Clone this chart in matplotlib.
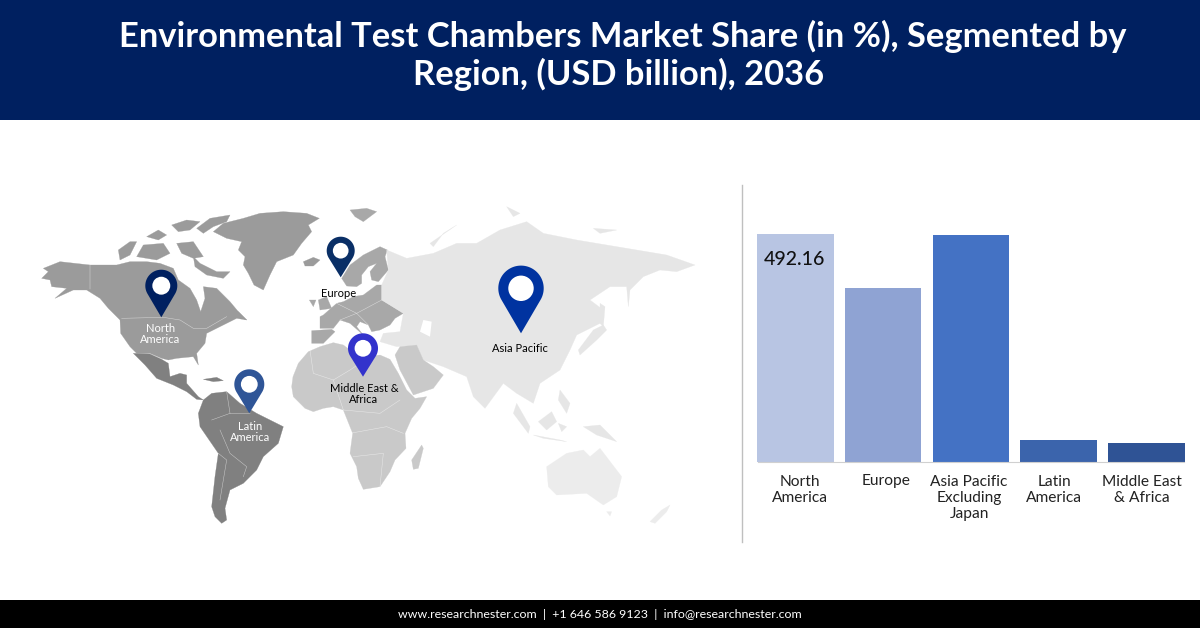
import matplotlib
matplotlib.use("Agg")
import matplotlib.pyplot as plt
from matplotlib.patches import Polygon, Rectangle, Circle
import numpy as np

# ---------- data ----------
categories = ["North\nAmerica", "Europe", "Asia Pacific\nExcluding\nJapan", "Latin\nAmerica", "Middle East\n& Africa"]
values = [492.16, 375.0, 490.0, 47.5, 41.0]
bar_colors = ["#B8C5E3", "#8FA3D3", "#4472C4", "#3B64AC", "#2F5395"]
label_shift = [0.055, 0.03, -0.02, -0.05, -0.05]
value_label = "492.16"
title_lines = ["Environmental Test Chambers Market Share (in %), Segmented by", "Region, (USD billion), 2036"]
footer = "www.researchnester.com  |  +1 646 586 9123  |  info@researchnester.com"

plt.rcParams["font.family"] = ["Lato", "DejaVu Sans"]
fig = plt.figure(figsize=(12, 6.28), dpi=100, facecolor="white")
bg = fig.add_axes([0, 0, 1, 1])
bg.set_xlim(0, 1200); bg.set_ylim(628, 0); bg.axis("off")

bg.add_patch(Rectangle((0, 0), 1200, 120, color="#002060", lw=0))
bg.add_patch(Rectangle((0, 600), 1200, 28, color="#000000", lw=0))
bg.text(622.5, 36, title_lines[0], color="white", ha="center", va="center", fontsize=24.85, fontweight="bold")
bg.text(618.5, 74, title_lines[1], color="white", ha="center", va="center", fontsize=24.85, fontweight="bold")
bg.text(599.5, 614.5, footer, color="white", ha="center", va="center", fontsize=8.95)
bg.plot([741.5, 741.5], [185, 542], color="#BFBFBF", lw=1)

Z2 = (30, 200); Z3 = (300, 200)
def land(pts, color, off):
    p = [(off[0] + x / 3, off[1] + y / 3) for x, y in pts]
    bg.add_patch(Polygon(p, closed=True, fc=color, ec=color, lw=0.2, joinstyle="round"))
def border(pts, off, color="white", lw=0.35):
    bg.plot([off[0] + x / 3 for x, y in pts], [off[1] + y / 3 for x, y in pts], color=color, lw=lw, alpha=0.6)

NA = "#9B9B9B"; LA = "#808080"; EU = "#A8A8A8"; AF = "#C9C9C9"; AS = "#E6E6E6"; OC = "#ECECEC"
# North America
land([(40,205),(90,185),(180,195),(260,195),(300,185),(350,185),(390,190),(430,205),(445,240),(480,265),(500,300),
      (512,335),(525,295),(520,260),(560,265),(600,305),(625,335),(650,360),(620,355),(590,370),(560,385),(530,400),
      (525,430),(500,460),(505,495),(490,470),(440,475),(415,480),(395,475),(360,460),(320,460),(300,440),(272,400),
      (270,360),(235,325),(210,295),(170,270),(130,270),(75,295),(110,265),(65,260),(60,240),(35,235),(55,215)], NA, Z2)
for isl in [[(500,85),(540,55),(600,45),(590,65),(550,80),(520,100)],
            [(425,75),(470,60),(510,65),(480,90),(445,95)],
            [(440,130),(490,125),(520,170),(490,175),(455,160)],
            [(490,170),(510,190),(560,215),(600,215),(580,235),(530,225),(495,200)],
            [(265,150),(300,125),(320,125),(300,165),(270,180)],
            [(320,170),(340,135),(400,130),(420,160),(380,180)],
            [(350,110),(385,90),(410,105),(385,120)],
            [(590,325),(625,335),(650,360),(610,345)]]:
    land(isl, NA, Z2)
land([(550,95),(580,70),(640,55),(690,40),(760,35),(830,40),(868,55),(835,75),(845,95),(815,130),(790,165),(740,185),
      (720,225),(700,270),(672,255),(655,220),(640,195),(645,170),(625,150),(635,125),(590,115)], NA, Z2)
land([(820,185),(850,172),(870,180),(850,198),(825,198)], NA, Z2)
land([(960,30),(1010,25),(1040,35),(1000,65),(975,50)], EU, Z2)
border([(180,195),(180,268)], Z2); border([(275,355),(400,352),(450,360),(490,385),(530,385),(590,350)], Z2)
# Mexico / Central America
land([(310,460),(360,462),(395,478),(415,490),(420,530),(450,520),(470,525),(470,550),(505,590),(520,600),(500,598),
      (470,575),(430,555),(380,535),(345,495),(320,470)], LA, Z2)
land([(520,538),(560,532),(580,542),(550,545)], LA, Z2)
# South America
land([(520,600),(545,580),(590,575),(630,610),(680,640),(760,680),(745,730),(700,770),(680,810),(640,850),(600,870),
      (585,925),(590,960),(575,970),(555,950),(545,920),(555,830),(565,760),(510,680),(505,640)], LA, Z2)
border([(545,660),(600,640),(660,640)], Z2); border([(570,690),(600,760),(650,800),(640,830)], Z2)
border([(565,760),(590,780),(570,900)], Z2); border([(590,575),(600,640)], Z2)
# Europe
land([(125,235),(150,195),(190,165),(240,140),(262,150),(255,170),(265,210),(235,245),(215,240),(210,215),(230,190),
      (205,200),(185,225),(185,250),(170,260),(140,258)], EU, Z3)
land([(60,350),(70,345),(110,310),(130,305),(160,290),(190,285),(230,255),(245,255),(245,300),(310,340),(285,355),
      (270,375),(240,390),(215,395),(205,375),(180,365),(170,380),(190,405),(150,370),(120,360),(100,385),(60,385)], EU, Z3)
land([(35,392),(95,388),(105,395),(70,430),(35,430)], EU, Z3)
land([(55,300),(80,290),(95,325),(60,330)], EU, Z3)
land([(28,300),(48,300),(40,320)], EU, Z3)
border([(110,310),(170,340),(245,300)], Z3); border([(120,360),(170,340),(205,375)], Z3)
# Asia
land([(260,150),(320,175),(400,160),(470,130),(530,130),(600,90),(680,65),(730,100),(830,120),(950,140),(1100,165),
      (1185,195),(1130,215),(1080,210),(1030,230),(990,270),(985,320),(980,260),(930,260),(870,300),(910,330),(900,370),
      (830,405),(810,450),(780,510),(720,550),(700,610),(650,580),(610,550),(555,625),(520,590),(500,530),(430,500),
      (370,480),(350,435),(290,440),(240,425),(250,400),(300,395),(310,340),(245,300),(245,255),(265,210)], AS, Z3)
for isl in [[(390,130),(470,75),(430,100),(400,140)], [(880,390),(910,375),(920,390),(890,420),(840,465),(835,450)],
            [(900,310),(915,320),(910,380),(900,370)], [(620,20),(660,40),(640,50)], [(880,85),(950,90),(900,100)],
            [(650,610),(690,680),(685,700),(640,640)], [(700,705),(780,720),(800,725),(730,715)],
            [(715,665),(755,635),(770,665),(740,690)], [(780,570),(810,610),(800,640),(775,600)],
            [(850,680),(900,675),(950,725),(890,705)], [(775,670),(800,680),(785,695)]]:
    land(isl, AS, Z3)
bg.add_patch(Polygon([(300+370/3, 200+360/3), (300+395/3, 200+365/3), (300+390/3, 200+410/3), (300+360/3, 200+395/3)], fc="white", ec="none"))
# Africa and Middle East
land([(-21,530),(-5,490),(25,455),(60,440),(100,428),(130,435),(150,450),(195,470),(240,465),(270,478),(295,520),(320,570),
      (345,595),(380,590),(360,625),(335,655),(315,700),(318,745),(285,780),(270,815),(240,860),(190,868),(175,835),(170,800),
      (150,760),(158,700),(138,650),(130,630),(100,620),(70,625),(40,635),(15,625),(-20,590),(-25,560)], AF, Z3)
land([(285,465),(300,440),(350,435),(370,480),(400,500),(430,525),(400,565),(340,585),(300,510)], AF, Z3)
land([(335,780),(365,735),(370,745),(355,805),(340,808)], AF, Z3)
border([(30,450),(40,520),(100,540),(150,510),(210,470)], Z3); border([(100,540),(130,630),(240,640),(300,600)], Z3)
border([(150,700),(260,680),(310,700)], Z3); border([(160,770),(250,760),(240,860)], Z3)
# Oceania
land([(740,800),(800,760),(850,750),(870,770),(900,745),(965,830),(950,890),(910,915),(860,880),(770,885),(745,860)], OC, Z3)
land([(1050,965),(1085,930),(1110,915),(1100,935),(1065,970)], OC, Z3)
land([(920,935),(935,935),(930,948)], OC, Z3)

# Pins
def pin(cx, cy, r, tip, color):
    d = tip - cy
    a = np.arccos(r / d)
    th = np.linspace(a, 2 * np.pi - a, 80)  # angle measured from straight down
    xs = cx + r * np.sin(th); ys = cy + r * np.cos(th)
    pts = [(cx, tip)] + list(zip(xs, ys))
    bg.add_patch(Polygon(pts, closed=True, fc=color, ec="none", zorder=5))
    bg.add_patch(Circle((cx, cy), r * 0.56, fc="white", ec="none", zorder=6))
pin(161.3, 285.7, 16, 317.3, "#002060")
pin(340.7, 250.7, 14, 277.3, "#0A2F66")
pin(249.3, 384.3, 15, 413.3, "#2F5597")
pin(363, 348.3, 15, 376.7, "#3333CC")
pin(521, 288.3, 22.7, 333.3, "#0033A0")

def lab(x, y, s, c="black"):
    bg.text(x, y, s, ha="center", va="center", fontsize=8, color=c, zorder=7, linespacing=1.05)
lab(160.5, 334, "North\nAmerica", "white")
lab(339, 293.5, "Europe")
lab(250, 432, "Latin\nAmerica", "white")
lab(364, 394, "Middle East &\nAfrica")
lab(520, 349, "Asia Pacific")

# Bars
x0, x1, yb, yt = 751.5, 1190.2, 462, 234
ax = fig.add_axes([x0/1200, 1 - yb/628, (x1-x0)/1200, (yb-yt)/628], facecolor="none")
pos = np.arange(len(categories))
ax.bar(pos, values, width=0.872, color=bar_colors)
ax.set_xlim(-0.5, 4.5); ax.set_ylim(0, values[0])
ax.set_xticks(pos + np.array(label_shift)); ax.set_xticklabels(categories, fontsize=11.2, color="#222222", linespacing=1.2)
ax.tick_params(axis="x", length=0, pad=9)
ax.set_yticks([])
for s in ["top", "left", "right"]:
    ax.spines[s].set_visible(False)
ax.spines["bottom"].set_color("#D0D0D0")
ax.spines["bottom"].set_bounds(-0.43, 4.43)
ax.text(pos[0] - 0.005, values[0] * 0.888, value_label, ha="center", va="center", fontsize=14, color="#111111", fontweight="medium")

fig.savefig("out.png", dpi=100)
